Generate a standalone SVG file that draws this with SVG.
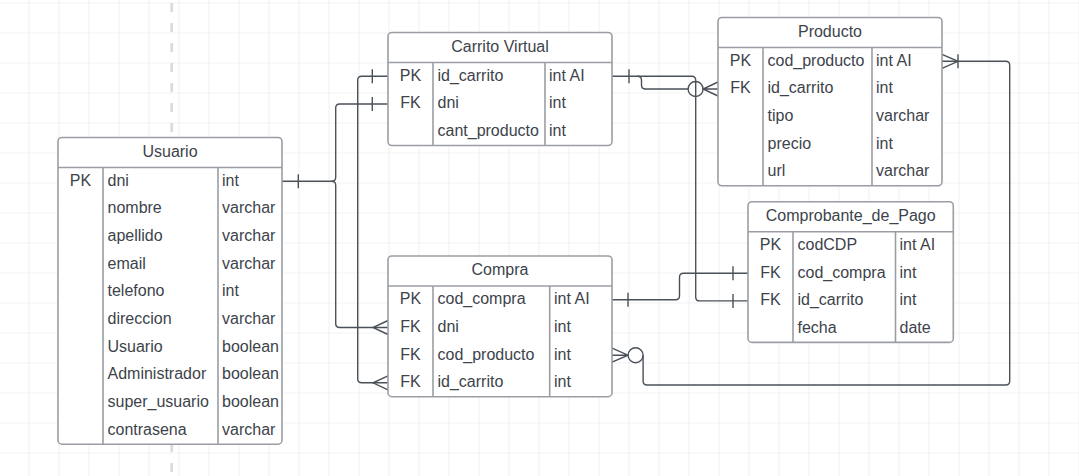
<svg xmlns="http://www.w3.org/2000/svg" width="1079" height="476" viewBox="0 0 1079 476">
<style>
.box{fill:#ffffff;stroke:#9a9ea4;stroke-width:1.6}
.sep{stroke:#9a9ea4;stroke-width:1.6;fill:none}
.t{font-family:"Liberation Sans",Arial,sans-serif;font-size:16px;fill:#3d434b}
.c{text-anchor:middle}
.ln{fill:none;stroke:#4a5159;stroke-width:1.4}
.cir{fill:#ffffff;stroke:#4a5159;stroke-width:1.4}
</style>
<defs>
<pattern id="grid" patternUnits="userSpaceOnUse" x="28.5" y="2.5" width="30" height="30">
<path d="M0,0 H30 M0,0 V30" fill="none" stroke="#e6e6e6" stroke-width="1.2"/>
</pattern>
</defs>
<rect width="1079" height="476" fill="#ffffff"/>
<rect width="1079" height="476" fill="url(#grid)"/>
<line x1="171.7" y1="0" x2="171.7" y2="476" stroke="#dadada" stroke-width="2.7" stroke-dasharray="9,11" stroke-dashoffset="-3"/>

<g id="connectors">
<!-- Usuario.dni -> Carrito.dni -->
<path class="ln" d="M282,181.3 H331.7 Q335.7,181.3 335.7,177.3 V108 Q335.7,104 339.7,104 H388"/>
<path class="ln" d="M298.3,174.3 V188.3 M372.3,97 V111"/>
<!-- Usuario.dni -> Compra.dni -->
<path class="ln" d="M331.7,181.3 Q335.7,181.3 335.7,185.3 V323.5 Q335.7,327.5 339.7,327.5 H388"/>
<path class="ln" d="M388,320.5 L373,327.5 L388,334.5"/>
<!-- Carrito.id_carrito -> Compra.id_carrito -->
<path class="ln" d="M388,76.3 H361.7 Q357.7,76.3 357.7,80.3 V378.8 Q357.7,382.8 361.7,382.8 H388"/>
<path class="ln" d="M372.3,69.3 V83.3"/>
<path class="ln" d="M388,375.8 L373,382.8 L388,389.8"/>
<!-- Carrito.id_carrito -> Producto.id_carrito -->
<path class="ln" d="M612,76.3 H637.5 Q641.5,76.3 641.5,80.3 V85 Q641.5,89 645.5,89 H688"/>
<path class="ln" d="M629,69.3 V83.3"/>
<circle class="cir" cx="695.6" cy="89" r="7.5"/>
<path class="ln" d="M718,82 L703.1,89 L718,96 M703.1,89 H718"/>
<!-- Carrito.id_carrito -> Comprobante.id_carrito -->
<path class="ln" d="M637.5,76.3 H691.7 Q695.7,76.3 695.7,80.3 V296.9 Q695.7,300.9 699.7,300.9 H748"/>
<path class="ln" d="M733,293.9 V307.9"/>
<!-- Compra.cod_compra -> Comprobante.cod_compra -->
<path class="ln" d="M612,299.8 H675.5 Q679.5,299.8 679.5,295.8 V277.2 Q679.5,273.2 683.5,273.2 H748"/>
<path class="ln" d="M628,292.8 V306.8 M733,266.2 V280.2"/>
<!-- Compra.cod_producto -> Producto.cod_producto -->
<path class="ln" d="M612,348.2 L628.1,355.2 L612,362.2 M612,355.2 H628.1"/>
<circle class="cir" cx="635.6" cy="355.2" r="7.5"/>
<path class="ln" d="M643.1,355.2 V381 Q643.1,385 647.1,385 H1005.7 Q1009.7,385 1009.7,381 V65.3 Q1009.7,61.3 1005.7,61.3 H942"/>
<path class="ln" d="M942,54.3 L958,61.3 L942,68.3 M958,54.3 V68.3"/>
</g>

<g id="usuario">
<rect class="box" x="58" y="137.5" width="224" height="306.7" rx="4"/>
<path class="sep" d="M58,167.5 H282 M103,167.5 V444.2 M218,167.5 V444.2"/>
<text class="t c" x="170" y="157">Usuario</text>
<text class="t c" x="80.5" y="185.7">PK</text>
<text class="t" x="107.5" y="185.7">dni</text><text class="t" x="222" y="185.7">int</text>
<text class="t" x="107.5" y="213.4">nombre</text><text class="t" x="222" y="213.4">varchar</text>
<text class="t" x="107.5" y="241">apellido</text><text class="t" x="222" y="241">varchar</text>
<text class="t" x="107.5" y="268.7">email</text><text class="t" x="222" y="268.7">varchar</text>
<text class="t" x="107.5" y="296.4">telefono</text><text class="t" x="222" y="296.4">int</text>
<text class="t" x="107.5" y="324">direccion</text><text class="t" x="222" y="324">varchar</text>
<text class="t" x="107.5" y="351.7">Usuario</text><text class="t" x="222" y="351.7">boolean</text>
<text class="t" x="107.5" y="379.4">Administrador</text><text class="t" x="222" y="379.4">boolean</text>
<text class="t" x="107.5" y="407">super_usuario</text><text class="t" x="222" y="407">boolean</text>
<text class="t" x="107.5" y="434.7">contrasena</text><text class="t" x="222" y="434.7">varchar</text>
</g>

<g id="carrito">
<rect class="box" x="388" y="32.5" width="224" height="113" rx="4"/>
<path class="sep" d="M388,62.5 H612 M433,62.5 V145.5 M545,62.5 V145.5"/>
<text class="t c" x="500" y="52">Carrito Virtual</text>
<text class="t c" x="410.5" y="80.7">PK</text><text class="t" x="437.5" y="80.7">id_carrito</text><text class="t" x="549" y="80.7">int AI</text>
<text class="t c" x="410.5" y="108.4">FK</text><text class="t" x="437.5" y="108.4">dni</text><text class="t" x="549" y="108.4">int</text>
<text class="t" x="437.5" y="136">cant_producto</text><text class="t" x="549" y="136">int</text>
</g>

<g id="producto">
<rect class="box" x="718" y="17.5" width="224" height="168.3" rx="4"/>
<path class="sep" d="M718,47.5 H942 M763,47.5 V185.8 M872,47.5 V185.8"/>
<text class="t c" x="830" y="37">Producto</text>
<text class="t c" x="740.5" y="65.7">PK</text><text class="t" x="767.5" y="65.7">cod_producto</text><text class="t" x="876" y="65.7">int AI</text>
<text class="t c" x="740.5" y="93.4">FK</text><text class="t" x="767.5" y="93.4">id_carrito</text><text class="t" x="876" y="93.4">int</text>
<text class="t" x="767.5" y="121">tipo</text><text class="t" x="876" y="121">varchar</text>
<text class="t" x="767.5" y="148.7">precio</text><text class="t" x="876" y="148.7">int</text>
<text class="t" x="767.5" y="176.4">url</text><text class="t" x="876" y="176.4">varchar</text>
</g>

<g id="compra">
<rect class="box" x="388" y="256" width="224" height="140.7" rx="4"/>
<path class="sep" d="M388,286 H612 M433,286 V396.7 M549.7,286 V396.7"/>
<text class="t c" x="500" y="275">Compra</text>
<text class="t c" x="410.5" y="304.2">PK</text><text class="t" x="437.5" y="304.2">cod_compra</text><text class="t" x="554" y="304.2">int AI</text>
<text class="t c" x="410.5" y="331.9">FK</text><text class="t" x="437.5" y="331.9">dni</text><text class="t" x="554" y="331.9">int</text>
<text class="t c" x="410.5" y="359.6">FK</text><text class="t" x="437.5" y="359.6">cod_producto</text><text class="t" x="554" y="359.6">int</text>
<text class="t c" x="410.5" y="387.2">FK</text><text class="t" x="437.5" y="387.2">id_carrito</text><text class="t" x="554" y="387.2">int</text>
</g>

<g id="comprobante">
<rect class="box" x="748" y="201.7" width="205.3" height="140.7" rx="4"/>
<path class="sep" d="M748,231.7 H953.3 M793,231.7 V342.4 M895.5,231.7 V342.4"/>
<text class="t c" x="850.7" y="221">Comprobante_de_Pago</text>
<text class="t c" x="770.5" y="249.9">PK</text><text class="t" x="797.5" y="249.9">codCDP</text><text class="t" x="899.5" y="249.9">int AI</text>
<text class="t c" x="770.5" y="277.6">FK</text><text class="t" x="797.5" y="277.6">cod_compra</text><text class="t" x="899.5" y="277.6">int</text>
<text class="t c" x="770.5" y="305.3">FK</text><text class="t" x="797.5" y="305.3">id_carrito</text><text class="t" x="899.5" y="305.3">int</text>
<text class="t" x="797.5" y="333">fecha</text><text class="t" x="899.5" y="333">date</text>
</g>
</svg>
